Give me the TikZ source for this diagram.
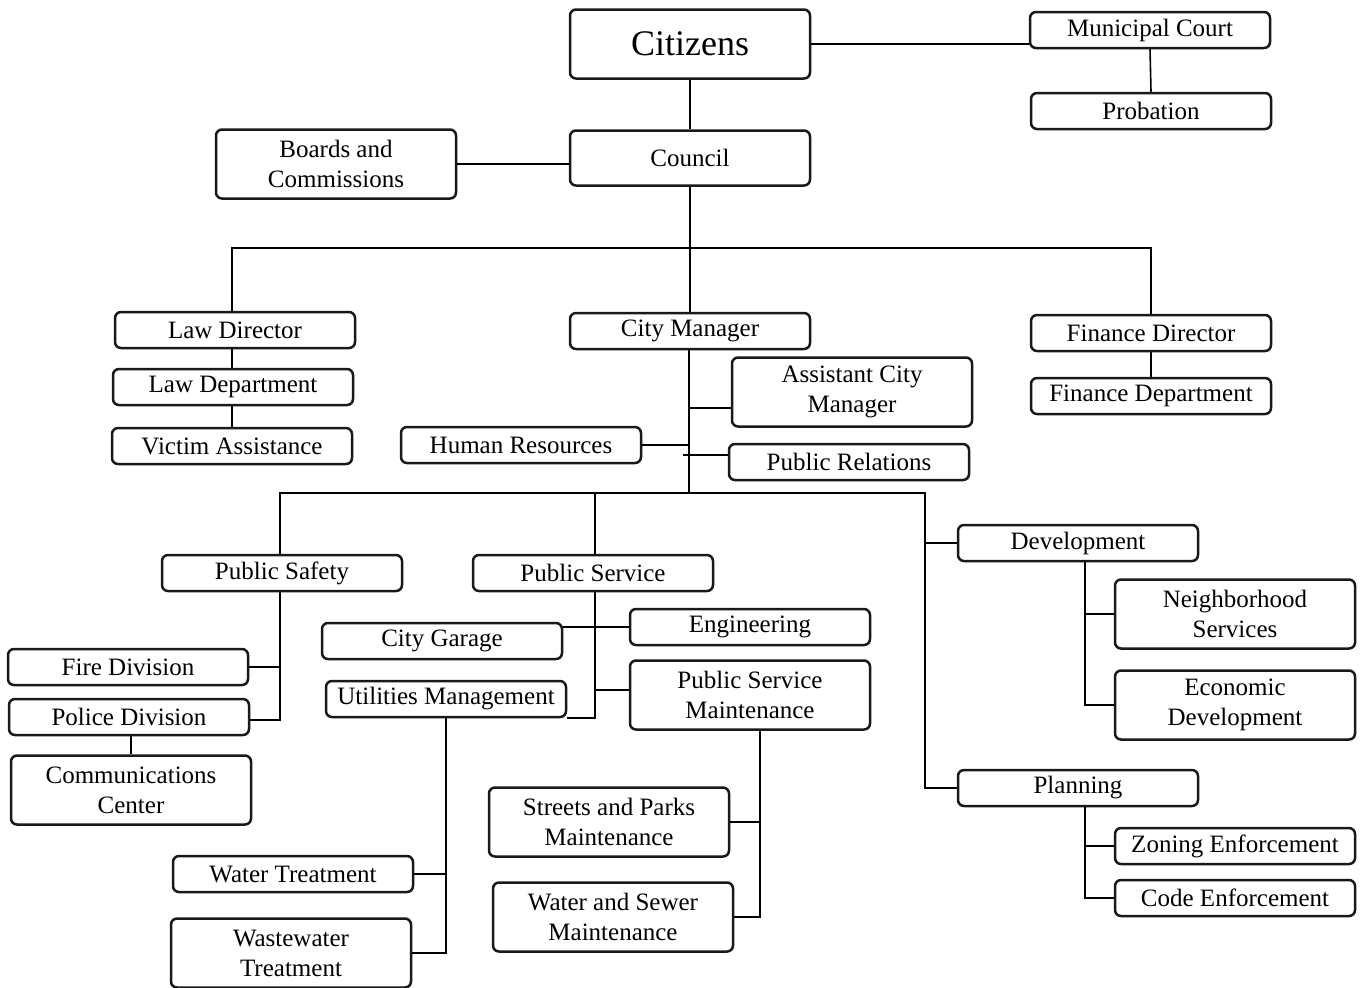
\documentclass[tikz,border=0pt]{standalone}
\usepackage{fontspec}
\setmainfont{Liberation Serif}
\definecolor{boxline}{RGB}{25,25,25}
\usepackage{tikz}
\usetikzlibrary{positioning, calc}

\begin{document}
\begin{tikzpicture}[x=0.5pt, y=-0.5pt,
    unit/.style={draw=boxline, line width=1.25pt, rounded corners=3pt, fill=white,
        minimum width=120pt, minimum height=18pt, inner sep=0pt, align=center,
        font=\fontsize{12.5}{15}\selectfont},
    tallunit/.style={unit, minimum height=34.5pt},
    link/.style={draw=black, line width=0.8pt}]
    \useasboundingbox[fill=white] (0,0) rectangle (1364,987);

    \node[tallunit, font=\fontsize{18}{20}\selectfont] (citizens) at (690,44) {Citizens};
    \node[unit] (court) at (1150,30) {Municipal Court};
    \node[unit] (probation) at (1151,111) {Probation};
    \node[tallunit] (boards) at (336,164) {Boards and\\Commissions};
    \node[unit, minimum height=27.5pt] (council) at (690,158) {Council};

    \node[unit] (lawdir) at (235,330) {Law Director};
    \node[unit] (lawdep) at (233,387) {Law Department};
    \node[unit] (victim) at (232,446) {Victim Assistance};
    \node[unit] (manager) at (690,331) {City Manager};
    \node[unit] (findir) at (1151,333) {Finance Director};
    \node[unit] (findep) at (1151,396) {Finance Department};
    \node[tallunit] (assistant) at (852,392) {Assistant City\\Manager};
    \node[unit] (hr) at (521,445) {Human Resources};
    \node[unit] (relations) at (849,462) {Public Relations};

    \node[unit] (development) at (1078,543) {Development};
    \node[tallunit] (neighbor) at (1235,614) {Neighborhood\\Services};
    \node[tallunit] (economic) at (1235,705) {Economic\\Development};
    \node[unit] (planning) at (1078,788) {Planning};
    \node[unit] (zoning) at (1235,846) {Zoning Enforcement};
    \node[unit] (code) at (1235,898) {Code Enforcement};

    \node[unit] (safety) at (282,573) {Public Safety};
    \node[unit] (fire) at (128,667) {Fire Division};
    \node[unit] (police) at (129,717) {Police Division};
    \node[tallunit] (comms) at (131,790) {Communications\\Center};

    \node[unit] (service) at (593,573) {Public Service};
    \node[unit] (garage) at (442,641) {City Garage};
    \node[unit] (engineering) at (750,627) {Engineering};
    \node[unit] (utilities) at (446,699) {Utilities Management};
    \node[tallunit] (psm) at (750,695) {Public Service\\Maintenance};
    \node[tallunit] (streets) at (609,822) {Streets and Parks\\Maintenance};
    \node[tallunit] (sewer) at (613,917) {Water and Sewer\\Maintenance};
    \node[unit] (water) at (293,874) {Water Treatment};
    \node[tallunit] (wastewater) at (291,953) {Wastewater\\Treatment};

    \coordinate (topbus) at (690,248);
    \coordinate (acmjoin) at (689,408);
    \coordinate (prjoin) at (683,455);
    \coordinate (lowbus) at (925,493);
    \coordinate (devtrunk) at (1085,0);
    \coordinate (sftrunk) at (280,0);
    \coordinate (svtrunk) at (595,0);
    \coordinate (uttrunk) at (446,0);
    \coordinate (pstrunk) at (760,0);

    \draw[link] (citizens.east) -- (citizens.east -| court.west);
    \draw[link] (court.south) -- (probation.north);
    \draw[link] (citizens.south) -- (council.north);
    \draw[link] (boards.east) -- (boards.east -| council.west);
    \draw[link] (council.south) -- (manager.north);
    \draw[link] (lawdir.north -| victim.north) |- (topbus) -| (findir.north);
    \draw[link] (lawdir.south -| victim.north) -- (lawdep.north -| victim.north);
    \draw[link] (lawdep.south -| victim.north) -- (victim.north);
    \draw[link] (findir.south) -- (findep.north);

    \draw[link] (manager.south -| acmjoin) -- (acmjoin |- lowbus);
    \draw[link] (acmjoin) -- (acmjoin -| assistant.west);
    \draw[link] (hr.east) -- (hr.east -| acmjoin);
    \draw[link] (prjoin) -- (prjoin -| relations.west);
    \draw[link] (sftrunk |- safety.north) |- (lowbus) |- (planning.west);
    \draw[link] (svtrunk |- service.north) -- (svtrunk |- lowbus);
    \draw[link] (lowbus |- development.west) -- (development.west);

    \draw[link] (devtrunk |- development.south) |- (economic.west);
    \draw[link] (devtrunk |- neighbor.west) -- (neighbor.west);
    \draw[link] (devtrunk |- planning.south) |- (code.west);
    \draw[link] (devtrunk |- zoning.west) -- (zoning.west);

    \draw[link] (sftrunk |- safety.south) |- ($(police.east)+(0,3)$);
    \draw[link] (fire.east) -- (fire.east -| sftrunk);
    \draw[link] (police.south -| comms.north) -- (comms.north);

    \draw[link] (svtrunk |- service.south) |- (utilities.south east);
    \draw[link] (engineering.west) -- (engineering.west -| garage.east);
    \draw[link] ($(psm.west)+(0,-5)$) -- ($(psm.west -| svtrunk)+(0,-5)$);
    \draw[link] (uttrunk |- utilities.south) |- (wastewater.east);
    \draw[link] (water.east) -- (water.east -| uttrunk);
    \draw[link] (pstrunk |- psm.south) |- (sewer.east);
    \draw[link] (streets.east) -- (streets.east -| pstrunk);
\end{tikzpicture}
\end{document}
